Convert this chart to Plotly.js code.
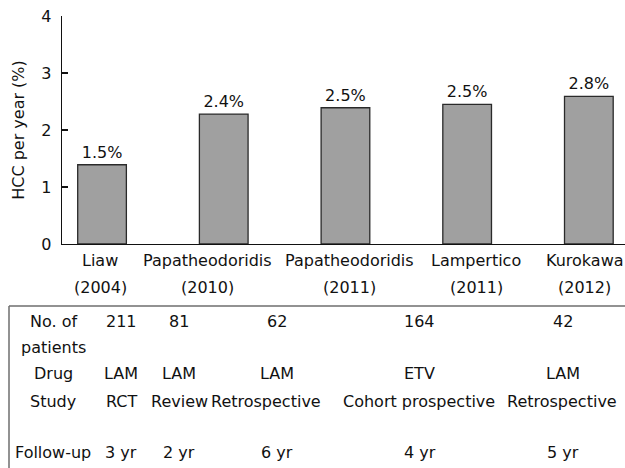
<!DOCTYPE html>
<html>
<head>
<meta charset="utf-8">
<script src="https://cdn.plot.ly/plotly-3.0.1.min.js"></script>
<style>html,body{margin:0;padding:0;background:#fff}#chart{width:625px;height:468px}</style>
</head>
<body>
<div id="chart"></div>
<script>
// ---- data ----
var authors = ["Liaw", "Papatheodoridis", "Papatheodoridis", "Lampertico", "Kurokawa"];
var years = ["(2004)", "(2010)", "(2011)", "(2011)", "(2012)"];
var hccPerYear = [1.39, 2.28, 2.39, 2.45, 2.59];
var barLabels = ["1.5%", "2.4%", "2.5%", "2.5%", "2.8%"];
var rowLabels = ["No. of<br>patients", "Drug", "Study", "Follow-up"];
var nPatients = ["211", "81", "62", "164", "42"];
var drugs = ["LAM", "LAM", "LAM", "ETV", "LAM"];
var studyTypes = ["RCT", "Review", "Retrospective", "Cohort prospective", "Retrospective"];
var followUp = ["3 yr", "2 yr", "6 yr", "4 yr", "5 yr"];
var yTicks = [0, 1, 2, 3, 4];

// ---- layout helpers (pixel -> paper) ----
var L = 62, R = 625, T = 16, B = 244, W = 625, H = 468;
function px(x) { return (x - L) / (R - L); }
function py(y) { return (B - y) / (B - T); }

var cats = authors.map(function (a, i) { return a + " " + years[i]; });

var font = { family: "DejaVu Sans, Verdana, sans-serif", size: 16, color: "#111" };

var trace = {
  type: "bar",
  x: cats,
  y: hccPerYear,
  text: barLabels,
  textposition: "outside",
  textfont: font,
  cliponaxis: false,
  width: 0.4,
  marker: { color: "#a0a0a0", line: { color: "#2a2a2a", width: 1.3 } },
  hoverinfo: "none"
};

var annotations = [];
// category labels under the axis (two lines), slightly shifted like the reference
var labelShift = [-2, -16, 4, 9, -4];
for (var k = 0; k < cats.length; k++) {
  annotations.push({ text: authors[k], xref: "x", yref: "paper", x: cats[k], y: py(260),
    xshift: labelShift[k], xanchor: "center", yanchor: "middle", showarrow: false, font: font });
  annotations.push({ text: years[k], xref: "x", yref: "paper", x: cats[k], y: py(287),
    xshift: labelShift[k], xanchor: "center", yanchor: "middle", showarrow: false, font: font });
}

var colX = [121, 179, 277, 420, 563];
var colXStudy = [121, 179, 266, 419, 562];
var labelX = 53;
function addText(text, x, y) {
  annotations.push({
    text: text, xref: "paper", yref: "paper", x: px(x), y: py(y),
    xanchor: "center", yanchor: "middle", showarrow: false, font: font
  });
}
var rl0 = rowLabels[0].split("<br>");
addText(rl0[0], labelX, 321);
addText(rl0[1], labelX, 347);
addText(rowLabels[1], labelX, 373);
addText(rowLabels[2], labelX, 401);
addText(rowLabels[3], labelX, 452);
for (var i = 0; i < 5; i++) {
  addText(nPatients[i], colX[i], 321);
  addText(drugs[i], colX[i], 373);
  addText(studyTypes[i], colXStudy[i], 401);
  addText(followUp[i], colX[i], 452);
}

var layout = {
  width: W, height: H,
  margin: { l: L, r: W - R, t: T, b: H - B },
  paper_bgcolor: "#fff", plot_bgcolor: "#fff",
  font: font,
  showlegend: false,
  xaxis: {
    type: "category",
    range: [-0.329, 4.297],
    showticklabels: false,
    showline: true, linecolor: "#111", linewidth: 1.3,
    ticks: "", showgrid: false, zeroline: false,
    fixedrange: true
  },
  yaxis: {
    range: [0, 4],
    tickvals: yTicks,
    ticks: "inside", ticklen: 6, tickcolor: "#111", tickwidth: 1.3,
    ticklabelstandoff: 6,
    showline: true, linecolor: "#111", linewidth: 1.3,
    showgrid: false, zeroline: false,
    tickfont: font, fixedrange: true,
    title: { text: "HCC per year (%)", font: font, standoff: 12 }
  },
  shapes: [
    { type: "line", xref: "paper", yref: "paper", x0: px(9), x1: px(625), y0: py(306), y1: py(306), line: { color: "#6e6e6e", width: 1.5 } },
    { type: "line", xref: "paper", yref: "paper", x0: px(9), x1: px(9), y0: py(306), y1: py(468), line: { color: "#6e6e6e", width: 1.5 } }
  ],
  annotations: annotations
};

Plotly.newPlot("chart", [trace], layout, { displayModeBar: false, staticPlot: true });
</script>
</body>
</html>
